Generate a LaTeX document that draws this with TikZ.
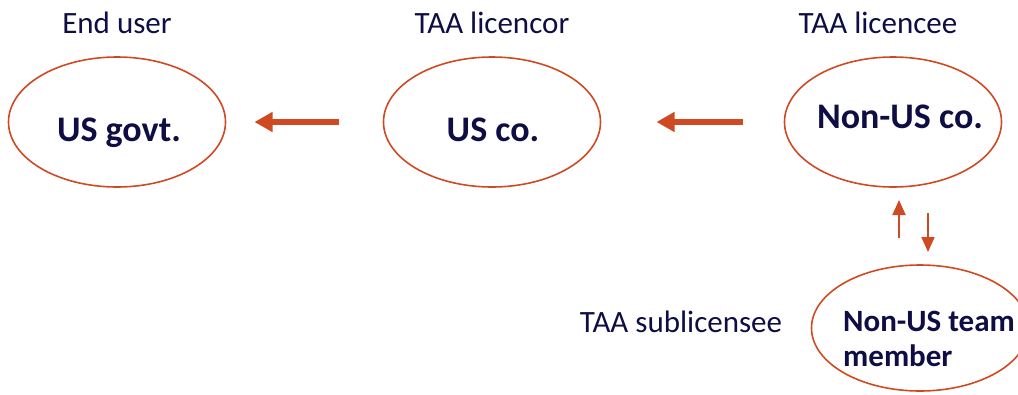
\documentclass[tikz,border=0pt]{standalone}
\usepackage{fontspec}
\setmainfont{Carlito}
\usetikzlibrary{shapes.geometric,arrows.meta}
\definecolor{ink}{HTML}{0E0E44}
\definecolor{rust}{HTML}{CF4A22}
\tikzset{
  party/.style={ellipse, draw=rust, line width=1.6pt, inner sep=0pt, outer sep=0pt,
                minimum width=#1},
  party/.default=217pt,
  role/.style={text=ink, inner sep=0pt, anchor=base, font=\fontsize{31}{36}\selectfont},
  who/.style={text=ink, inner sep=0pt, anchor=base, font=\bfseries\fontsize{36}{42}\selectfont},
  bigflow/.style={draw=rust, line width=6pt, -{Triangle[length=18pt,width=19pt]}},
  smallflow/.style={draw=rust, line width=2pt, -{Triangle[length=15pt,width=13pt]}},
}
\begin{document}
\begin{tikzpicture}[x=1pt,y=-1pt]
  \useasboundingbox (0,0) rectangle (1018,394);
  \clip (0,0) rectangle (1018,394);

  % parties
  \node[party, minimum height=130pt] (govt)  at (117,122) {};
  \node[party, minimum height=130pt] (usco)  at (492,122) {};
  \node[party, minimum height=130pt] (nonus) at (893,122) {};
  \node[party, minimum height=126pt] (team)  at (920,328) {};

  % names inside the ellipses
  \node[who] (govtname)  at (119,141) {US govt.};
  \node[who] (usconame)  at (493,141) {US co.};
  \node[who] (nonusname) at (900,128) {Non-US co.};
  \node[text=ink, inner sep=0pt, anchor=north west, align=left,
        font=\bfseries\fontsize{31}{35}\selectfont] (teamname) at (843,311)
        {Non-US team\\member};

  % roles
  \node[role] (enduser)  at (117,33) {End user};
  \node[role] (licencor) at (492,33) {TAA licencor};
  \node[role] (licencee) at (878,33) {TAA licencee};
  \node[role] (sublic)   at (681,332) {TAA sublicensee};

  % flows between the parties
  \draw[bigflow, shorten <=45pt, shorten >=29pt] (usco.west) -- (govt.east);
  \draw[bigflow, shorten <=42pt, shorten >=56pt] (nonus.west) -- (usco.east);

  \path (899,0) coordinate (upx) (928,0) coordinate (downx);
  \draw[smallflow, shorten <=27pt, shorten >=13pt] (team.north -| upx) -- (nonus.south -| upx);
  \draw[smallflow, shorten <=26pt, shorten >=13pt] (nonus.south -| downx) -- (team.north -| downx);
\end{tikzpicture}
\end{document}
